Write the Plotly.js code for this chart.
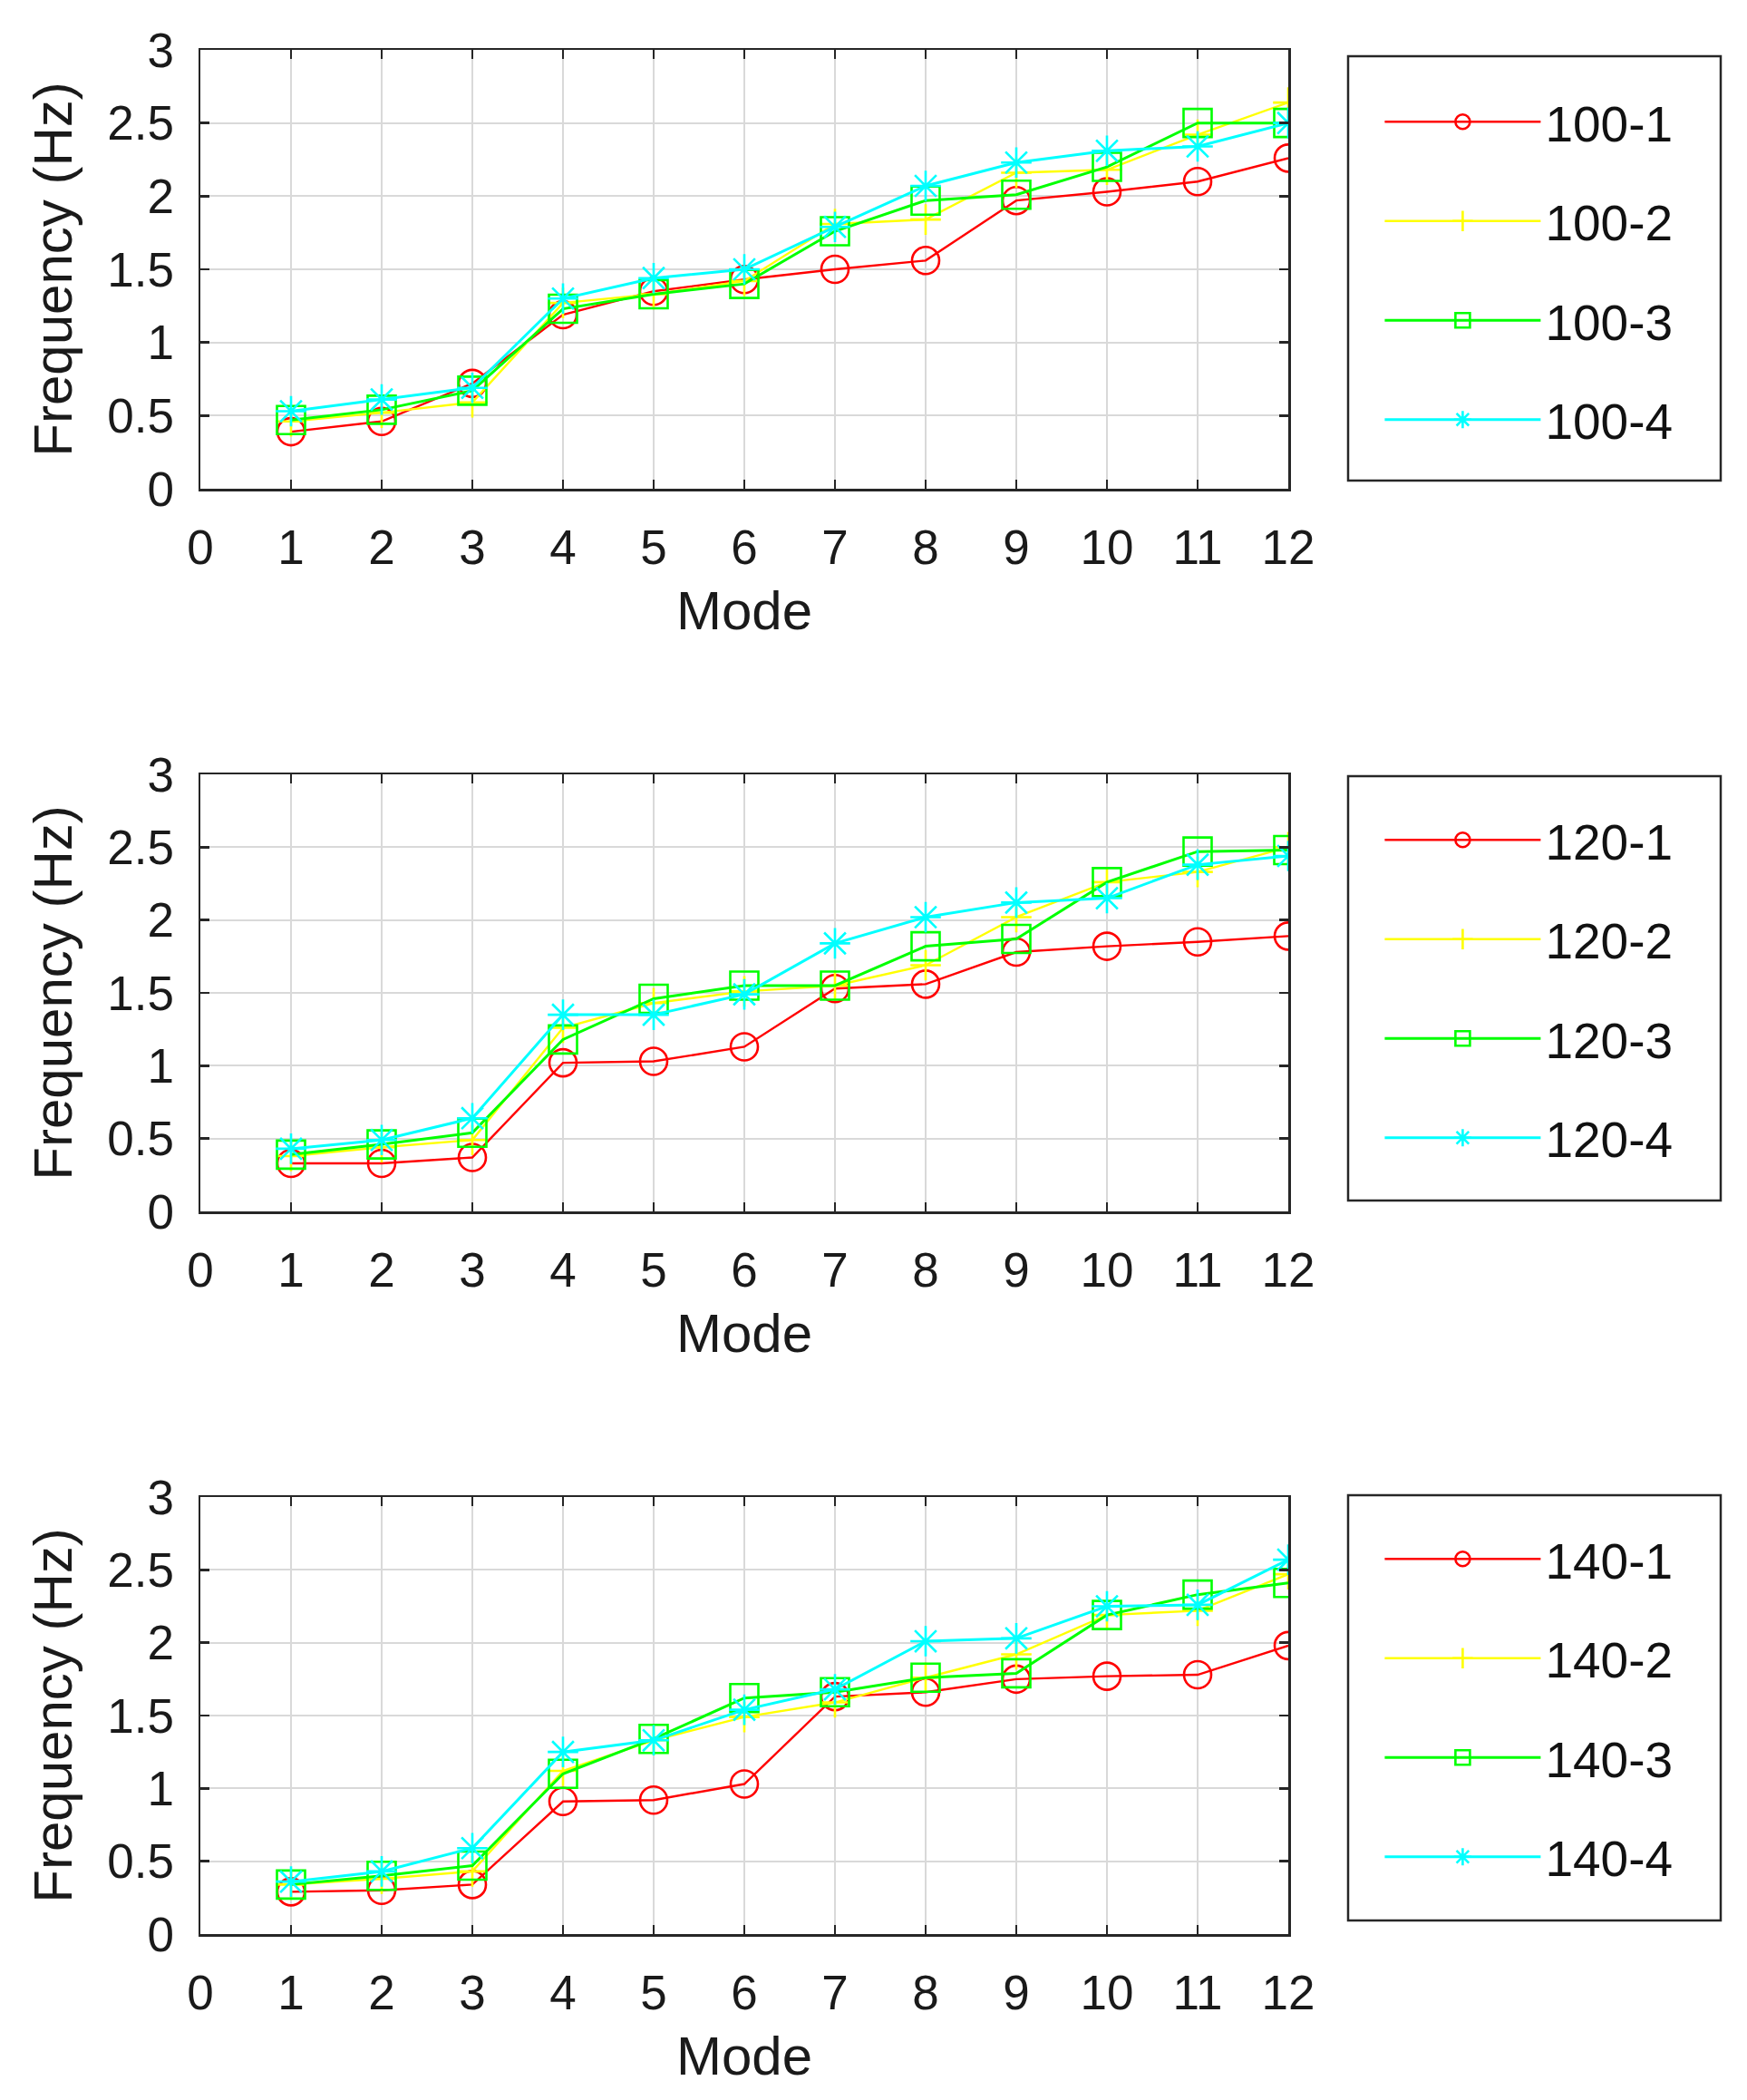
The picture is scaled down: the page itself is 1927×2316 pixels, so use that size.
<!DOCTYPE html>
<html>
<head>
<meta charset="utf-8">
<script src="https://cdn.plot.ly/plotly-3.0.1.min.js"></script>
<style>
  html, body { margin: 0; padding: 0; background: #ffffff; }
  #chart { width: 1927px; height: 2316px; }
</style>
</head>
<body>
<div id="chart"></div>
<script>
// ---------------- data ----------------
const modes = [1, 2, 3, 4, 5, 6, 7, 8, 9, 10, 11, 12];

const seriesNames100 = ["100-1", "100-2", "100-3", "100-4"];
const seriesNames120 = ["120-1", "120-2", "120-3", "120-4"];
const seriesNames140 = ["140-1", "140-2", "140-3", "140-4"];

const freq100_1 = [0.39, 0.46, 0.72, 1.19, 1.35, 1.43, 1.50, 1.56, 1.97, 2.03, 2.10, 2.26];
const freq100_2 = [0.46, 0.52, 0.59, 1.27, 1.33, 1.42, 1.81, 1.84, 2.16, 2.18, 2.42, 2.64];
const freq100_3 = [0.47, 0.54, 0.67, 1.23, 1.33, 1.40, 1.76, 1.97, 2.01, 2.20, 2.50, 2.50];
const freq100_4 = [0.53, 0.61, 0.69, 1.30, 1.44, 1.50, 1.79, 2.07, 2.23, 2.31, 2.34, 2.50];

const freq120_1 = [0.33, 0.33, 0.37, 1.02, 1.03, 1.13, 1.53, 1.56, 1.78, 1.82, 1.85, 1.89];
const freq120_2 = [0.38, 0.44, 0.49, 1.26, 1.43, 1.51, 1.55, 1.69, 2.02, 2.26, 2.33, 2.50];
const freq120_3 = [0.39, 0.46, 0.54, 1.18, 1.46, 1.55, 1.55, 1.82, 1.87, 2.26, 2.47, 2.48];
const freq120_4 = [0.43, 0.49, 0.64, 1.35, 1.35, 1.49, 1.84, 2.02, 2.12, 2.15, 2.38, 2.44];

const freq140_1 = [0.29, 0.30, 0.34, 0.91, 0.92, 1.03, 1.63, 1.66, 1.75, 1.77, 1.78, 1.98];
const freq140_2 = [0.34, 0.38, 0.43, 1.12, 1.33, 1.49, 1.59, 1.76, 1.92, 2.19, 2.22, 2.47];
const freq140_3 = [0.34, 0.40, 0.47, 1.10, 1.34, 1.62, 1.66, 1.76, 1.79, 2.19, 2.33, 2.41];
const freq140_4 = [0.36, 0.43, 0.59, 1.25, 1.33, 1.54, 1.68, 2.01, 2.03, 2.25, 2.26, 2.57];

const xTickVals = [0, 1, 2, 3, 4, 5, 6, 7, 8, 9, 10, 11, 12];
const yTickVals = [0, 0.5, 1, 1.5, 2, 2.5, 3];
const xTitle = "Mode";
const yTitle = "Frequency (Hz)";

// ---------------- styles ----------------
const colors = ["#ff0000", "#ffff00", "#00ff00", "#00ffff"];
const symbols = ["circle-open", "cross-thin-open", "square-open", "asterisk-open"];
const markerSizes = [30, 24, 31, 28];
const lineWidths = [2.4, 2.4, 3, 3];

const FONT = "Liberation Sans, Arial, Helvetica, sans-serif";
const INK = "#262626";

const panels = [
  { names: seriesNames100, data: [freq100_1, freq100_2, freq100_3, freq100_4], xa: "x",  ya: "y",  lg: "legend"  },
  { names: seriesNames120, data: [freq120_1, freq120_2, freq120_3, freq120_4], xa: "x2", ya: "y2", lg: "legend2" },
  { names: seriesNames140, data: [freq140_1, freq140_2, freq140_3, freq140_4], xa: "x3", ya: "y3", lg: "legend3" }
];

const traces = [];
panels.forEach((p) => {
  p.data.forEach((vals, i) => {
    traces.push({
      type: "scatter",
      mode: "lines+markers",
      x: modes,
      y: vals,
      name: p.names[i],
      xaxis: p.xa,
      yaxis: p.ya,
      legend: p.lg,
      legendgroup: p.names[i],
      line: { color: colors[i], width: lineWidths[i] },
      marker: {
        symbol: symbols[i],
        size: markerSizes[i],
        color: colors[i],
        line: { color: colors[i], width: 2.6 }
      },
      hoverinfo: "x+y+name"
    });
  });
});

function xAxis(anchor) {
  return {
    anchor: anchor,
    domain: [0, 1],
    range: [0, 12],
    tickvals: xTickVals,
    ticks: "inside",
    ticklen: 10,
    tickwidth: 2.5,
    tickcolor: INK,
    showline: true,
    linecolor: INK,
    linewidth: 2.5,
    mirror: "ticks",
    showgrid: true,
    gridcolor: "#d9d9d9",
    gridwidth: 2,
    zeroline: false,
    automargin: false,
    ticklabelstandoff: 17,
    tickfont: { family: FONT, size: 53, color: "#1a1a1a" },
    title: { text: xTitle, font: { family: FONT, size: 60, color: "#1a1a1a" }, standoff: 20 }
  };
}
function yAxis(anchor, dom) {
  return {
    anchor: anchor,
    domain: dom,
    range: [0, 3],
    tickvals: yTickVals,
    ticks: "inside",
    ticklen: 10,
    tickwidth: 2.5,
    tickcolor: INK,
    showline: true,
    linecolor: INK,
    linewidth: 2.5,
    mirror: "ticks",
    showgrid: true,
    gridcolor: "#d9d9d9",
    gridwidth: 2,
    zeroline: false,
    automargin: false,
    ticklabelstandoff: 16,
    tickfont: { family: FONT, size: 53, color: "#1a1a1a" },
    title: { text: yTitle, font: { family: FONT, size: 60, color: "#1a1a1a" }, standoff: 19 }
  };
}
// legend entries (frame drawn separately as a shape so its size matches)
function legendBox(yTop) {
  return {
    x: 1.0845,
    xanchor: "left",
    y: yTop,
    yanchor: "top",
    bgcolor: "rgba(0,0,0,0)",
    borderwidth: 0,
    font: { family: FONT, size: 55, color: "#111111" },
    itemwidth: 172,
    tracegroupgap: 35,
    traceorder: "grouped",
    itemclick: false,
    itemdoubleclick: false
  };
}
function legendFrame(y0, y1) {
  return {
    type: "rect", xref: "paper", yref: "paper",
    x0: 1.055, x1: 1.3975, y0: y0, y1: y1,
    line: { color: INK, width: 2.5 },
    fillcolor: "rgba(0,0,0,0)",
    layer: "below"
  };
}

const layout = {
  width: 1927,
  height: 2316,
  paper_bgcolor: "#ffffff",
  plot_bgcolor: "#ffffff",
  margin: { l: 221, r: 506, t: 55, b: 183, pad: 0 },
  font: { family: FONT, color: "#1a1a1a" },
  showlegend: true,
  xaxis: xAxis("y"),
  yaxis: yAxis("x", [0.76708, 1]),
  xaxis2: xAxis("y2"),
  yaxis2: yAxis("x2", [0.38354, 0.61549]),
  xaxis3: xAxis("y3"),
  yaxis3: yAxis("x3", [0, 0.23195]),
  legend: legendBox(0.98220),
  legend2: legendBox(0.60106),
  legend3: legendBox(0.21944),
  shapes: [
    legendFrame(0.77141, 0.99663),
    legendFrame(0.38932, 0.61453),
    legendFrame(0.00722, 0.23292)
  ]
};

Plotly.newPlot("chart", traces, layout, { displayModeBar: false, staticPlot: true });
</script>
</body>
</html>
